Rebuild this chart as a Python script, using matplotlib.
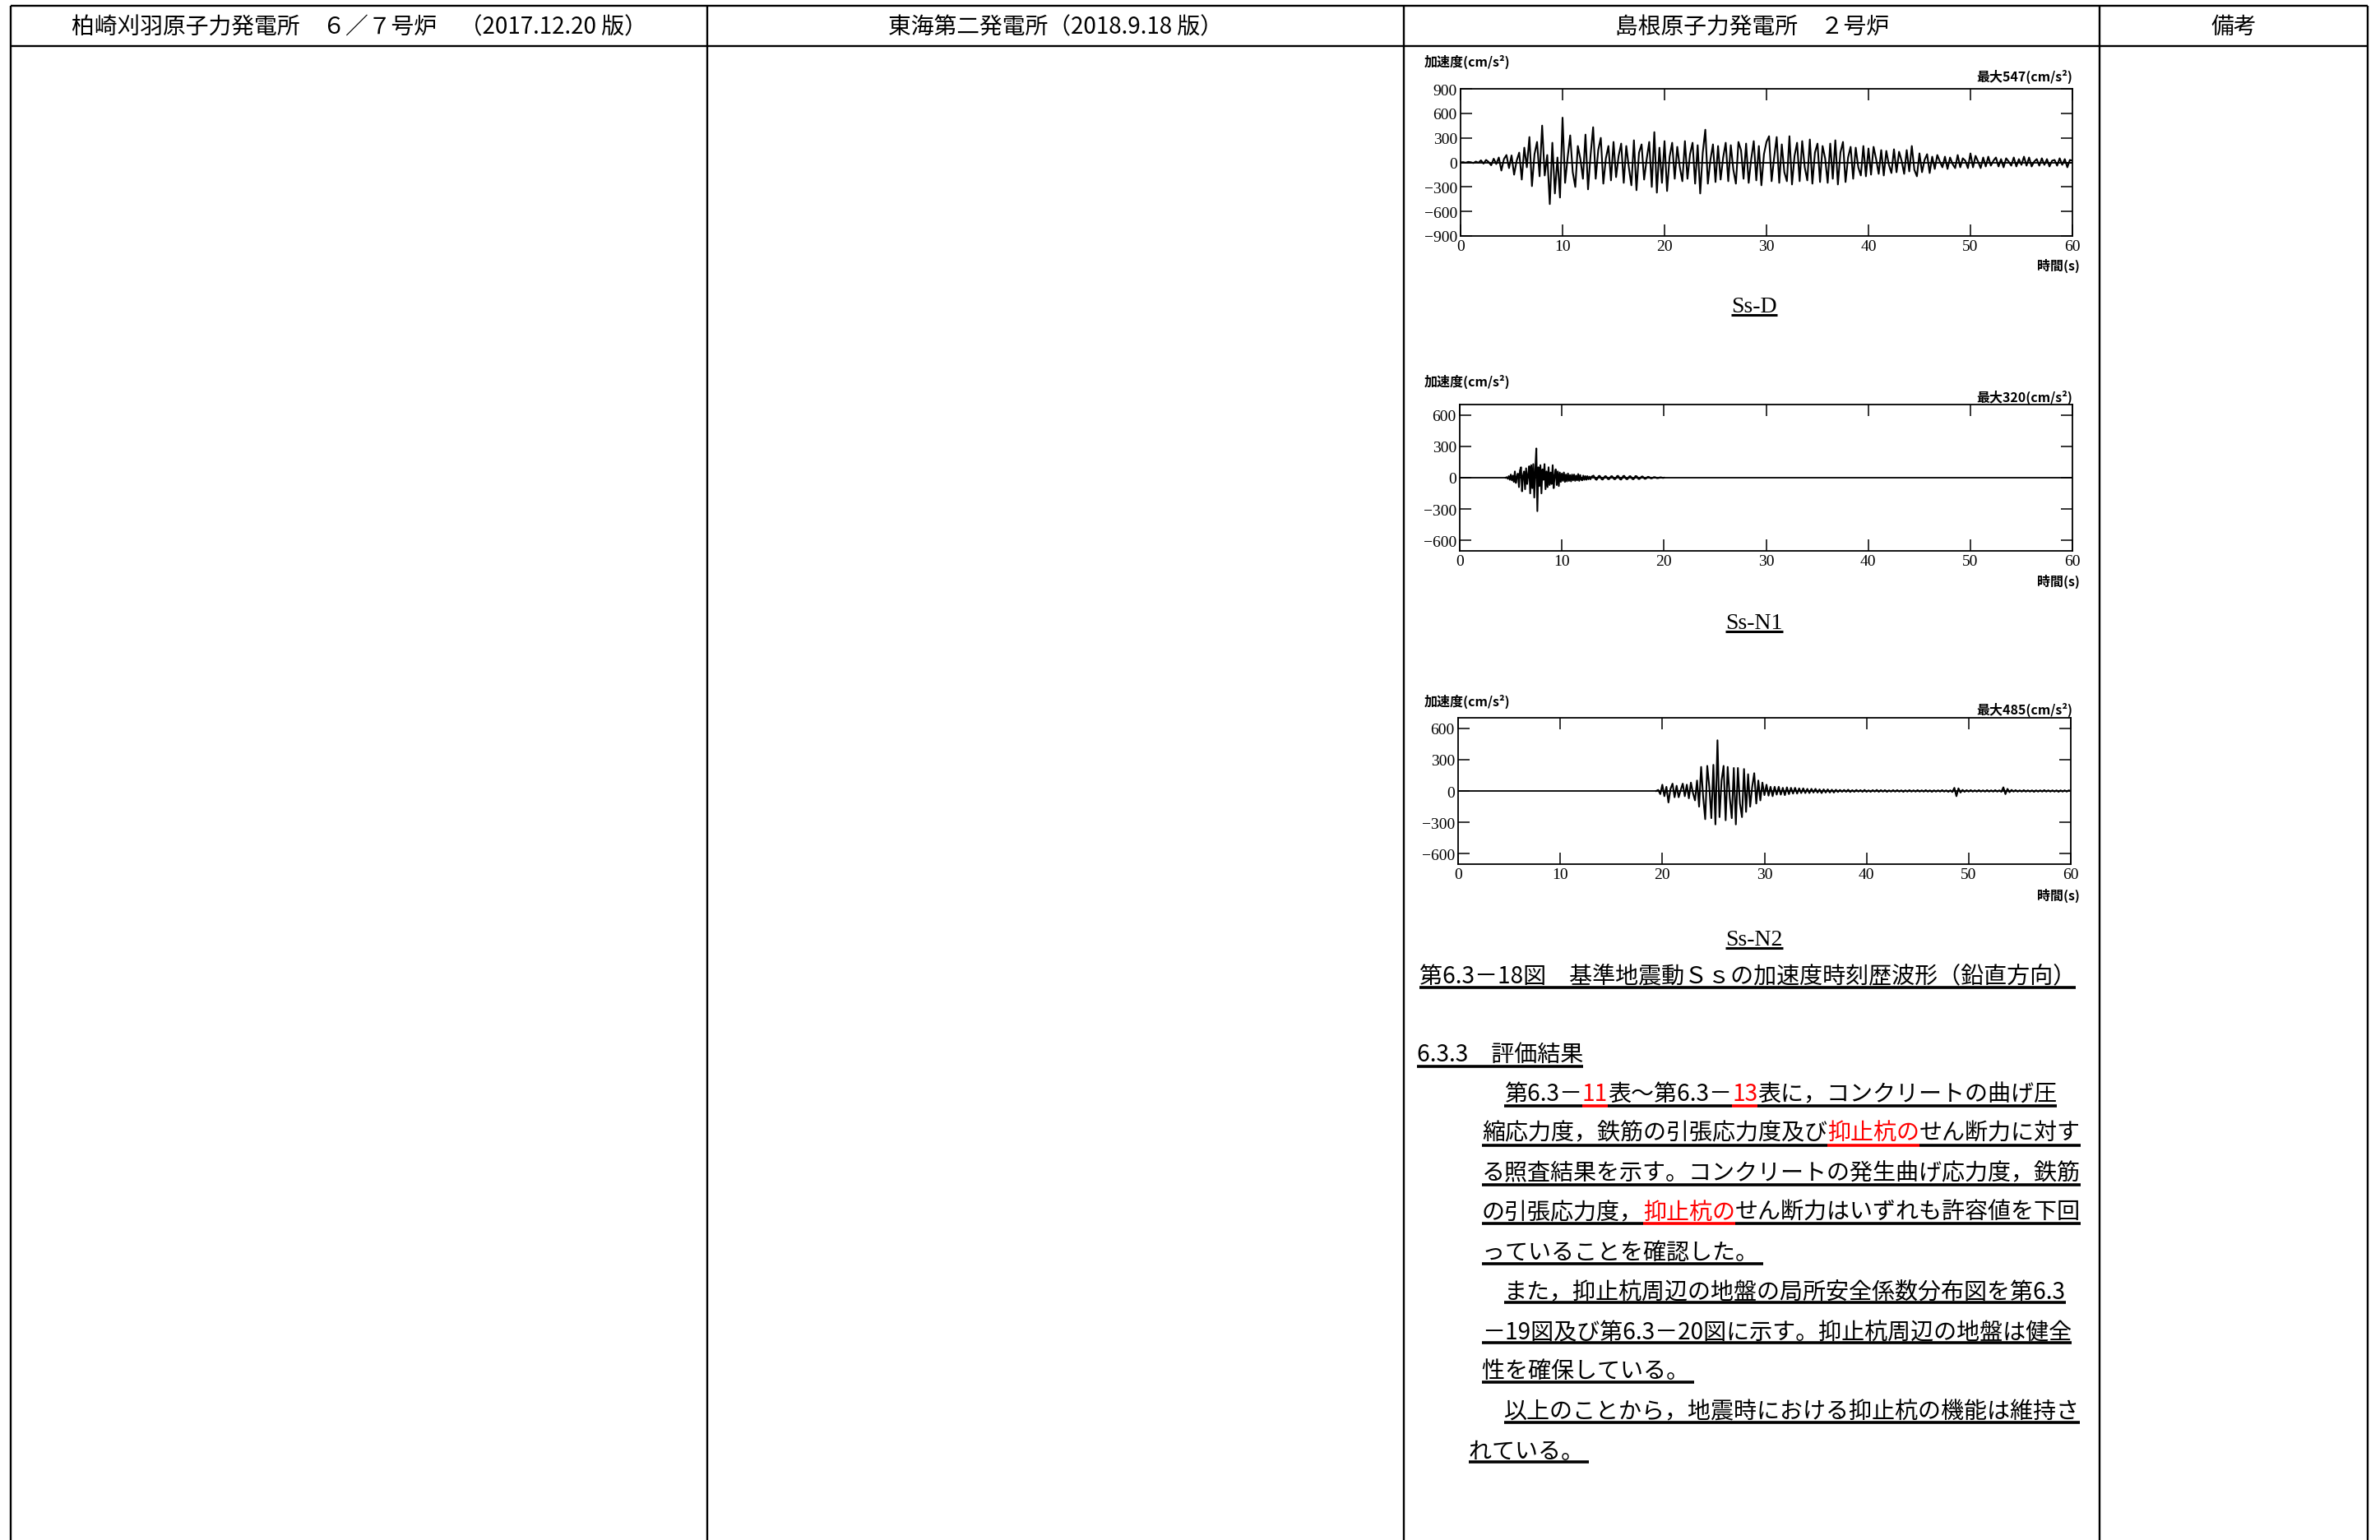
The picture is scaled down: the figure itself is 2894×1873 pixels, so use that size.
import numpy as np
import matplotlib
matplotlib.use("Agg")
import matplotlib.pyplot as plt
from matplotlib.lines import Line2D

JP = ['Noto Sans CJK JP', 'DejaVu Sans']
SERIF = ['Liberation Serif', 'DejaVu Serif']
plt.rcParams['font.family'] = JP

# ---------------- data ----------------
header_titles = ["柏崎刈羽原子力発電所　６／７号炉　（2017.12.20 版）",
                 "東海第二発電所（2018.9.18 版）",
                 "島根原子力発電所　２号炉",
                 "備考"]

wave_names = ["Ss-D", "Ss-N1", "Ss-N2"]
wave_peaks = [547, 320, 485]
y_label_text = "加速度(cm/s²)"
x_label_text = "時間(s)"

x_ticks = [0, 10, 20, 30, 40, 50, 60]
x_tick_labels = ["0", "10", "20", "30", "40", "50", "60"]
y_ticks_d = [-900, -600, -300, 0, 300, 600, 900]
y_tick_labels_d = ["−900", "−600", "−300", "0", "300", "600", "900"]
y_ticks_n = [-600, -300, 0, 300, 600]
y_tick_labels_n = ["−600", "−300", "0", "300", "600"]

# Ss-D : start 0 s, step 0.25 s
ssd_t0 = 0.0
ssd_dt = 0.25
ssd_acc = [
    0, 3, -4, 6, 2, -8, 10, -5, 25, -15, 30, 5, -35, 45, -20, 60, -100, 40, 90, -70,
    85, -150, 20, 120, -210, 180, -60, 310, -290, 100, 250, -170, 450, -160, 90, -510, 240, -380, 60, -430,
    547, -250, 60, 330, -120, -300, 200, 40, -200, 340, -330, 90, 430, -200, 150, 300, -260, 50, 200, -220,
    250, -180, 80, 230, -250, 200, -60, -280, 270, -340, 120, 220, -210, 40, 250, -300, 370, -370, 180, -250,
    260, -350, 70, 240, -200, 190, -60, -230, 260, -200, 100, 240, -260, 210, -380, 120, 400, -260, 30, 220,
    -240, 200, -210, 60, 240, -230, 210, -90, -260, 250, 150, -200, 230, -250, 40, 260, -220, 200, -280, 100,
    250, 320, -230, 60, 310, -250, 220, -120, -230, 320, -270, 80, 240, -230, 260, -60, -220, 280, -260, 120,
    230, -240, 200, 50, -250, 230, -200, 270, -270, 120, 250, -240, 60, 190, -200, 180, -60, -160, 200, -170,
    170, -150, 190, 40, -140, 150, -160, 140, -30, -130, 160, -120, 130, 20, -140, 150, -110, 200, -90, -170,
    110, -120, 30, 100, -130, 70, -80, 90, 10, -60, 70, -80, 60, -20, -70, 90, -60, 50, 20, -70,
    110, -60, 80, 10, -70, 60, -50, 70, -40, 20, 60, -50, 40, -60, 50, 10, -40, 60, -50, 40,
    -30, 70, -40, 60, -50, 10, 40, -40, 50, -30, 40, -50, 20, 30, -40, 50, -30, 40, -60, 30, 20,
]

# Ss-N1 : start 4.5 s, step 0.1 s
ssn1_t0 = 4.5
ssn1_dt = 0.1
ssn1_acc = [
    0, 5, -10, 15, -20,
    30, -25, 20, -40, 60, -50, 10, 40, -90, 70,
    100, -130, 20, 60, -110, 90, -60, 30, 110, -150,
    120, -100, 130, -190, 80, 280, -320, 100, -80, 120,
    -150, 80, -20, 130, -110, 60, -90, 100, -70, 50,
    -60, 120, -100, 20, 80, -70, 60, -80, 50, -40,
    40, -30, 50, -40, 30, -35, 40, -30, 25, -35,
    30, -25, 30, -30, 20, -25, 35, -30, 25, -20,
    -25, 20, -20, 15, -20, 15, -15, 10, -15, 10,
    15, 20, 5, -15, -20, -5, 15, 18, 5, -15,
    -18, -5, 12, 15, 5, -12, -15, -5, 12, 15,
    5, -12, -15, -5, 15, 18, 5, -15, -18, -5,
    15, 18, 5, -12, -15, -5, 12, 15, 5, -12,
    -15, -5, 15, 15, 5, -12, -12, -3, 10, 12,
    3, -10, -10, -3, 8, 8, 3, -6, -6, -2,
    5, 5, 2, -4, -4, -2, 3, 3, 1, -2, 0,
]

# Ss-N2 : start 19.4 s, step 0.2 s
ssn2_t0 = 19.4
ssn2_dt = 0.2
ssn2_acc = [
    0, 10, -30, 60, -50,
    40, -110, 20, 70, -60,
    50, -60, 10, 70, -50,
    60, -70, 80, -20, -90,
    100, -150, 230, -60, -270,
    240, 40, -260, 250, -320,
    485, -250, 100, 240, -280,
    230, -60, -260, 220, -320,
    220, -120, -250, 210, -200,
    160, -150, 40, 170, -120,
    100, -90, 80, -40, 60,
    -45, 40, -50, 40, -35,
    40, -35, 30, -40, 35,
    -30, 30, -25, 30, -25,
    25, -20, 25, -20, 20,
    -20, 20, -15, 20, -15,
    15, -20, 15, -15, 15,
    -15, 12, -15, 12, -10,
    10, -8, 10, -8, 12, -10, 8, -8, 10, -6, 8, -8, 10, -8, 6, -8, 8, -6, 10, -8,
    8, -6, 8, -8, 6, -6, 8, -6, 8, -6, 6, -8, 6, -6, 8, -6, 6, -6, 8, -6,
    6, -6, 8, -6, 6, -8, 6, -6, 6, -6, 8, -6, 6, -8, 6,
    -10, 30, -50, 25, -15,
    10, -8, 8, -6, 8, -6, 6, -6, 8, -6, 6, -6, 8, -6, 6, -6, 8, -6, 6, -8,
    35, -30, 20, -12, 10,
    -6, 8, -6, 6, -6, 8, -6, 6, -6, 6, -8, 6, -6, 6, -6, 8, -6, 6, -6, 6, -6, 6, -8, 6, -6, 6, -6, 6, 0,
]

caption_text = "第6.3－18図　基準地震動Ｓｓの加速度時刻歴波形（鉛直方向）"
section_text = "6.3.3　評価結果"
body_lines = [
    [("第6.3－", "k"), ("11", "r"), ("表～第6.3－", "k"), ("13", "r"), ("表に，コンクリートの曲げ圧", "k")],
    [("縮応力度，鉄筋の引張応力度及び", "k"), ("抑止杭の", "r"), ("せん断力に対す", "k")],
    [("る照査結果を示す。コンクリートの発生曲げ応力度，鉄筋", "k")],
    [("の引張応力度，", "k"), ("抑止杭の", "r"), ("せん断力はいずれも許容値を下回", "k")],
    [("っていることを確認した。 ", "k")],
    [("また，抑止杭周辺の地盤の局所安全係数分布図を第6.3", "k")],
    [("－19図及び第6.3－20図に示す。抑止杭周辺の地盤は健全", "k")],
    [("性を確保している。 ", "k")],
    [("以上のことから，地震時における抑止杭の機能は維持さ", "k")],
    [("れている。 ", "k")],
]

# ---------------- figure ----------------
W, H = 2894, 1874
fig = plt.figure(figsize=(W / 100, H / 100), dpi=100)
renderer = fig.canvas.get_renderer()
COLORS = {"k": "black", "r": "#ff0000"}


def fx(x):
    return x / W


def fy(y):
    return 1 - y / H


def hline(x0, x1, y, lw=1.7, color="black"):
    fig.add_artist(Line2D([fx(x0), fx(x1)], [fy(y), fy(y)], lw=lw, color=color,
                          solid_capstyle="butt"))


def vline(x, y0, y1, lw=1.7, color="black"):
    fig.add_artist(Line2D([fx(x), fx(x)], [fy(y0), fy(y1)], lw=lw, color=color,
                          solid_capstyle="butt"))


# table frame
col_x = [13, 860, 1707, 2553, 2879]
hline(col_x[0], col_x[-1], 8)
hline(col_x[0], col_x[-1], 57)
for x in col_x:
    vline(x, 8, H)
for i, title in enumerate(header_titles):
    fig.text(fx((col_x[i] + col_x[i + 1]) / 2), fy(33), title, ha="center", va="center",
             fontsize=20, family=JP)

# ---------------- waveform charts ----------------
chart_boxes = [(1776, 2520, 109, 288), (1775, 2520, 493, 671), (1773, 2518, 874, 1052)]
ylims = [900, 700, 700]
ylabel_y = [75, 464, 853]
peak_y = [93, 483, 863]
xlabel_y = [323, 707, 1089]
name_ul_y = [384, 769, 1154]

series = [
    (ssd_t0, ssd_dt, ssd_acc),
    (ssn1_t0, ssn1_dt, ssn1_acc),
    (ssn2_t0, ssn2_dt, ssn2_acc),
]
yticks_all = [(y_ticks_d, y_tick_labels_d), (y_ticks_n, y_tick_labels_n), (y_ticks_n, y_tick_labels_n)]

for k in range(3):
    l, r, t, b = chart_boxes[k]
    ax = fig.add_axes([l / W, 1 - b / H, (r - l) / W, (b - t) / H])
    t0, dt, acc = series[k]
    tt = t0 + dt * np.arange(len(acc))
    ax.axhline(0, color="black", lw=1.3, zorder=1)
    ax.plot(tt, acc, color="black", lw=1.5, zorder=2)
    ax.set_xlim(0, 60)
    ax.set_ylim(-ylims[k], ylims[k])
    ax.set_xticks(x_ticks)
    ax.set_xticklabels(x_tick_labels, fontfamily=SERIF, fontsize=14)
    yt, ytl = yticks_all[k]
    ax.set_yticks(yt)
    ax.set_yticklabels(ytl, fontfamily=SERIF, fontsize=14)
    ax.tick_params(direction="in", length=10, width=1.1, top=True, right=True, pad=3)
    for s in ax.spines.values():
        s.set_linewidth(1.3)

    fig.text(fx(1732), fy(ylabel_y[k]), y_label_text, ha="left", va="center",
             fontsize=11.5, family=JP, fontweight="bold")
    fig.text(fx(2520), fy(peak_y[k]), "最大%d(cm/s²)" % wave_peaks[k], ha="right", va="center",
             fontsize=11.5, family=JP, fontweight="bold")
    fig.text(fx(2529), fy(xlabel_y[k]), x_label_text, ha="right", va="center",
             fontsize=11.5, family=JP, fontweight="bold")
    nt = fig.text(fx(2133), fy(name_ul_y[k] - 4), wave_names[k], ha="center", va="baseline",
                  fontsize=20, family=SERIF)
    bb = nt.get_window_extent(renderer=renderer)
    hline(bb.x0, bb.x1, name_ul_y[k], lw=2.2)


# ---------------- text block ----------------
BODY_FS = 20.2


def draw_segments(x0, y, ul_y, segs, fs=BODY_FS):
    x = x0
    for s, c in segs:
        col = COLORS[c]
        tx = fig.text(fx(x), fy(y), s, ha="left", va="center", fontsize=fs, family=JP, color=col)
        bb = tx.get_window_extent(renderer=renderer)
        hline(x, x + bb.width, ul_y, lw=2.6, color=col)
        x += bb.width


draw_segments(1726, 1187, 1202, [(caption_text, "k")])
draw_segments(1723, 1283, 1298, [(section_text, "k")])

line_x = [1829, 1802, 1802, 1802, 1802, 1829, 1802, 1802, 1829, 1786]
line_y = [1331, 1378, 1427, 1475, 1524, 1572, 1621, 1668, 1717, 1766]
line_ul = [1346, 1394, 1442, 1489, 1538, 1585, 1634, 1682, 1731, 1779]
for segs, x, y, u in zip(body_lines, line_x, line_y, line_ul):
    draw_segments(x, y, u, segs)

fig.savefig("out.png", dpi=100)
